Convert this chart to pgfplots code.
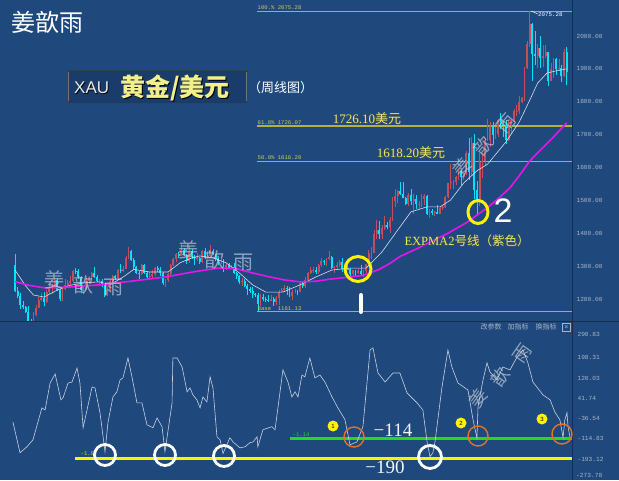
\documentclass[border=0pt]{standalone}
\usepackage{fontspec}
\usepackage{pgfplots}
\usepackage{pgfplotstable}
\pgfplotsset{compat=1.18}
\setmainfont{Liberation Serif}
\newfontfamily\cjk{Noto Sans CJK SC}
\newfontfamily\mono{Liberation Mono}
\newfontfamily\lsans{Liberation Sans}
\definecolor{bg}{RGB}{31,73,125}
\definecolor{boxc}{RGB}{26,60,106}
\definecolor{sepc}{RGB}{20,45,80}
\definecolor{upc}{RGB}{196,78,92}
\definecolor{dnc}{RGB}{0,228,255}
\definecolor{fibc}{RGB}{178,178,62}
\definecolor{fibt}{RGB}{205,205,90}
\definecolor{ytxt}{RGB}{236,232,92}
\definecolor{tickc}{RGB}{170,180,198}
\definecolor{magc}{RGB}{232,20,232}
\definecolor{emac}{RGB}{215,222,235}
\definecolor{ccic}{RGB}{200,208,222}
\definecolor{grc}{RGB}{30,220,30}
\definecolor{yel}{RGB}{255,242,0}
\definecolor{orc}{RGB}{225,115,40}
\definecolor{wmc}{RGB}{205,210,222}
\newcommand\tickfont{\mono\fontsize{6.2}{7}\selectfont}

\pgfplotstableread{
i o h l c
0 1304 1337 1220 1225
1 1225 1236 1202 1208
2 1208 1219 1171 1183
3 1183 1193 1171 1177
4 1177 1180 1156 1160
5 1160 1180 1124 1134
6 1134 1140 1124 1133
7 1133 1160 1128 1152
8 1152 1182 1148 1173
9 1173 1207 1172 1196
10 1196 1219 1194 1204
11 1204 1220 1180 1190
12 1190 1226 1188 1220
13 1220 1245 1215 1234
14 1234 1245 1216 1235
15 1235 1264 1231 1257
16 1257 1264 1224 1226
17 1226 1229 1195 1201
18 1201 1233 1195 1229
19 1229 1261 1226 1244
20 1244 1259 1238 1249
21 1249 1271 1242 1254
22 1254 1289 1248 1285
23 1285 1295 1276 1284
24 1284 1290 1262 1268
25 1268 1270 1226 1228
26 1228 1237 1214 1228
27 1228 1264 1228 1254
28 1254 1271 1246 1267
29 1267 1283 1260 1279
30 1279 1296 1265 1266
31 1266 1274 1251 1254
32 1254 1260 1241 1256
33 1256 1262 1235 1242
34 1242 1243 1205 1212
35 1212 1235 1208 1228
36 1228 1258 1225 1255
37 1255 1272 1249 1269
38 1269 1274 1257 1264
39 1264 1291 1257 1289
40 1289 1306 1279 1285
41 1285 1300 1281 1291
42 1291 1330 1290 1325
43 1325 1357 1322 1346
44 1346 1348 1316 1320
45 1320 1326 1288 1297
46 1297 1301 1276 1280
47 1280 1285 1260 1275
48 1275 1306 1273 1304
49 1304 1306 1277 1280
50 1280 1284 1262 1266
51 1266 1283 1264 1269
52 1269 1288 1265 1275
53 1275 1297 1270 1293
54 1293 1299 1281 1287
55 1287 1298 1271 1280
56 1280 1281 1243 1248
57 1248 1260 1236 1257
58 1257 1279 1252 1275
59 1275 1306 1272 1303
60 1303 1326 1301 1322
61 1322 1340 1312 1338
62 1338 1344 1325 1332
63 1332 1366 1331 1350
64 1350 1355 1331 1333
65 1333 1338 1307 1315
66 1315 1361 1310 1347
67 1347 1351 1321 1330
68 1330 1333 1303 1323
69 1323 1341 1315 1324
70 1324 1329 1307 1313
71 1313 1348 1309 1347
72 1347 1356 1322 1325
73 1325 1347 1322 1332
74 1332 1365 1325 1345
75 1345 1353 1333 1336
76 1336 1338 1316 1323
77 1323 1326 1302 1315
78 1315 1325 1305 1318
79 1318 1321 1282 1291
80 1291 1307 1287 1302
81 1302 1309 1291 1294
82 1294 1303 1290 1298
83 1298 1309 1275 1278
84 1278 1281 1261 1269
85 1269 1272 1245 1252
86 1252 1265 1238 1255
87 1255 1262 1236 1241
88 1241 1245 1211 1231
89 1231 1236 1218 1223
90 1223 1236 1204 1214
91 1214 1219 1205 1211
92 1211 1218 1160 1184
93 1184 1214 1178 1206
94 1206 1215 1195 1200
95 1200 1207 1190 1198
96 1198 1212 1191 1194
97 1194 1211 1193 1199
98 1199 1205 1180 1192
99 1192 1208 1182 1203
100 1203 1227 1182 1222
101 1222 1233 1221 1227
102 1227 1243 1221 1234
103 1234 1238 1211 1233
104 1233 1237 1206 1209
105 1209 1226 1196 1222
106 1222 1230 1217 1222
107 1222 1228 1212 1221
108 1221 1250 1220 1248
109 1248 1251 1234 1238
110 1238 1267 1234 1257
111 1257 1283 1256 1279
112 1279 1298 1276 1287
113 1287 1297 1280 1289
114 1289 1298 1276 1282
115 1282 1305 1275 1303
116 1303 1326 1297 1317
117 1317 1320 1302 1314
118 1314 1326 1300 1322
119 1322 1346 1319 1328
120 1328 1331 1291 1294
121 1294 1300 1280 1298
122 1298 1311 1290 1302
123 1302 1320 1298 1313
124 1313 1325 1281 1292
125 1292 1298 1281 1291
126 1291 1310 1287 1290
127 1290 1293 1270 1275
128 1275 1289 1266 1287
129 1287 1288 1267 1280
130 1280 1290 1277 1285
131 1285 1304 1273 1276
132 1276 1287 1266 1284
133 1284 1306 1279 1305
134 1305 1348 1305 1341
135 1341 1358 1322 1341
136 1341 1411 1340 1399
137 1399 1439 1382 1409
138 1409 1438 1381 1399
139 1399 1425 1383 1415
140 1415 1453 1410 1425
141 1425 1433 1412 1419
142 1419 1448 1400 1440
143 1440 1510 1438 1497
144 1497 1535 1480 1513
145 1513 1530 1491 1527
146 1527 1555 1517 1520
147 1520 1557 1506 1507
148 1507 1510 1485 1488
149 1488 1523 1484 1517
150 1517 1535 1485 1497
151 1497 1519 1459 1505
152 1505 1517 1474 1488
153 1488 1498 1474 1490
154 1490 1518 1481 1505
155 1505 1519 1486 1514
156 1514 1515 1456 1459
157 1459 1474 1445 1468
158 1468 1475 1455 1463
159 1463 1469 1452 1464
160 1464 1485 1457 1460
161 1460 1480 1458 1476
162 1476 1485 1471 1479
163 1479 1514 1477 1511
164 1511 1553 1508 1552
165 1552 1611 1535 1557
166 1557 1563 1536 1557
167 1557 1574 1546 1571
168 1571 1591 1563 1589
169 1589 1592 1547 1570
170 1570 1584 1562 1584
171 1584 1649 1578 1643
172 1643 1689 1563 1585
173 1585 1692 1576 1674
174 1674 1703 1505 1530
175 1530 1560 1451 1498
176 1498 1645 1482 1617
177 1617 1645 1567 1620
178 1620 1690 1606 1683
179 1683 1747 1681 1683
180 1683 1738 1661 1726
181 1726 1739 1670 1700
182 1700 1723 1688 1702
183 1702 1749 1692 1744
184 1744 1765 1716 1735
185 1735 1740 1693 1730
186 1730 1745 1670 1685
187 1685 1745 1681 1730
188 1730 1745 1704 1744
189 1744 1779 1737 1771
190 1771 1789 1757 1773
191 1773 1818 1763 1799
192 1799 1815 1795 1810
193 1810 1907 1803 1902
194 1902 1984 1900 1975
195 1975 2075 1966 2035
196 2035 2040 1863 1944
197 1944 2015 1911 1940
198 1940 1976 1902 1964
199 1964 2000 1903 1933
200 1933 1973 1907 1940
201 1940 1973 1932 1950
202 1950 1952 1849 1862
203 1862 1918 1863 1900
204 1900 1933 1873 1930
205 1930 1933 1882 1899
206 1899 1931 1894 1902
207 1902 1911 1860 1879
208 1879 1960 1876 1951
209 1951 1966 1850 1889
}\ohlc

\begin{document}
\begin{tikzpicture}[x=1pt,y=1pt]
\fill[bg] (0,0) rectangle (619,480);

% ---------------- upper price panel ----------------
\begin{axis}[at={(0pt,158pt)}, anchor=south west, scale only axis,
  width=572pt, height=322pt,
  xmin=-5.682, xmax=211.0, ymin=1130, ymax=2109.5,
  axis line style={draw=none}, xtick=\empty,
  ytick={1200,1300,1400,1500,1600,1700,1800,1900,2000},
  yticklabels={1200.00,1300.00,1400.00,1500.00,1600.00,1700.00,1800.00,1900.00,2000.00},
  yticklabel pos=right, major tick length=0pt, tick style={draw=none},
  yticklabel style={font=\tickfont, text=tickc, anchor=west, xshift=1pt},
  clip=true]
% Fibonacci levels
\addplot[fibc, line width=1.3pt] coordinates {(91.7,2075.28) (211,2075.28)};
\addplot[fibc, line width=1.3pt] coordinates {(91.7,1726.07) (211,1726.07)};
\addplot[fibc, line width=1.3pt] coordinates {(91.7,1618.20) (211,1618.20)};
\addplot[fibc, line width=1.3pt] coordinates {(91.7,1161.13) (211,1161.13)};
% up candles (red)
\addplot[draw=none, mark=none, forget plot,
  restrict expr to domain={\thisrow{c}-\thisrow{o}}{0:100000},
  error bars/.cd, y dir=plus, y explicit, error mark=none,
  error bar style={draw=upc, line width=0.6pt}]
  table[x=i, y=l, y error expr=\thisrow{h}-\thisrow{l}] {\ohlc};
\addplot[draw=none, mark=none, forget plot,
  restrict expr to domain={\thisrow{c}-\thisrow{o}}{0:100000},
  error bars/.cd, y dir=plus, y explicit, error mark=none,
  error bar style={draw=upc, line width=1.9pt}]
  table[x=i, y=o, y error expr=\thisrow{c}-\thisrow{o}] {\ohlc};
% down candles (cyan)
\addplot[draw=none, mark=none, forget plot,
  restrict expr to domain={\thisrow{o}-\thisrow{c}}{0.5:100000},
  error bars/.cd, y dir=plus, y explicit, error mark=none,
  error bar style={draw=dnc, line width=0.6pt}]
  table[x=i, y=l, y error expr=\thisrow{h}-\thisrow{l}] {\ohlc};
\addplot[draw=none, mark=none, forget plot,
  restrict expr to domain={\thisrow{o}-\thisrow{c}}{0.5:100000},
  error bars/.cd, y dir=plus, y explicit, error mark=none,
  error bar style={draw=dnc, line width=1.9pt}]
  table[x=i, y=c, y error expr=\thisrow{o}-\thisrow{c}] {\ohlc};
% short EXPMA (white)
\addplot[emac, line width=0.6pt] coordinates {
(0,1288)(4,1240)(7,1212)(11,1206)(16,1227)(21,1242)(26,1249)(32,1252)(36,1243)
(41,1267)(45,1290)(51,1282)(58,1282)(62.5,1310)(67,1325)(70,1331)(75,1325)
(80,1310)(85,1279)(90,1243)(95,1221)(101.5,1221)(108,1243)(114,1267)(120,1288)
(127,1294)(133,1294)(139,1343)(145,1410)(150,1465)(156,1480)(161,1480)(165,1501)
(170,1553)(175,1590)(179,1610)(186,1678)(191,1738)(195,1805)(198,1857)
(201.5,1887)(205,1894)(209,1900)};
% EXPMA2 (magenta)
\addplot[magc, line width=1.6pt] coordinates {
(0,1253)(5,1242)(11,1234)(20,1236)(32,1243)(45,1255)(57,1267)(68,1283)(77,1294)
(84,1292)(90,1279)(96,1268)(102,1258)(108,1252)(114,1254)(119,1260)(126,1266)
(132,1272)(138,1290)(142,1308)(146,1330)(152,1352)(157,1372)(164,1400)(171,1432)
(175,1455)(179,1478)(183,1505)(187.5,1538)(191,1575)(195,1620)(199,1653)
(204,1693)(209,1736)};
\end{axis}

% ---------------- lower oscillator panel ----------------
\begin{axis}[at={(0pt,0pt)}, anchor=south west, scale only axis,
  width=572pt, height=158pt,
  xmin=-5.682, xmax=211.0, ymin=-274.4, ymax=337.3,
  axis line style={draw=none}, xtick=\empty,
  ytick={-193.12,-114.83,-36.54,41.74,120.03,198.31,290.83},
  yticklabels={-193.12,-114.83,-36.54,41.74,120.03,198.31,290.83},
  yticklabel pos=right, major tick length=0pt, tick style={draw=none},
  yticklabel style={font=\tickfont, text=tickc, anchor=west, xshift=2pt},
  clip=true]
\addplot[yel, line width=2.6pt] coordinates {(22.7,-190) (211,-190)};
\addplot[grc, line width=2.6pt] coordinates {(104.2,-114) (211,-114)};
\addplot[ccic, line width=0.6pt] coordinates {
(-0.8,-49)(1.9,-169)(4.5,-146)(6.8,-119)(10.2,5)(11.4,-3)(13.3,101)(15.2,136)
(17.4,36)(18.2,44)(20.1,101)(21.6,105)(23.5,159)(24.6,101)(25.8,-72)(29.2,86)
(30.3,82)(32.2,-14)(34.1,-165)(35.2,-53)(37.1,47)(38.6,67)(39.8,113)(40.9,121)
(42.8,198)(44.3,125)(46.2,24)(48.1,24)(50.0,-61)(52.3,-72)(53.8,-34)(55.7,-68)
(56.8,-165)(59.5,24)(59.8,198)(61.4,198)(63.3,163)(65.2,67)(66.3,82)(67.4,55)
(68.9,36)(70.1,5)(71.2,47)(72.7,28)(73.9,125)(75.0,82)(76.5,-107)(77.7,-119)
(78.8,-172)(81.4,-111)(82.6,-127)(85.2,-150)(87.1,-146)(89.0,-130)(90.2,-127)
(91.7,-107)(92.0,-146)(93.9,-80)(97.3,-68)(98.5,-80)(99.6,5)(101.5,152)
(103.4,105)(104.9,47)(106.1,67)(107.2,47)(108.7,132)(109.8,125)(111.7,198)
(113.6,121)(115.5,132)(117.4,105)(120.1,47)(122.3,5)(125.0,-41)(126.9,-138)
(129.5,-127)(131.8,-68)(134.5,229)(135.6,237)(137.5,140)(140.2,105)(143.2,140)
(145.8,140)(148.5,63)(152.3,24)(154.5,-3)(156.1,-127)(157.2,-184)(158.3,-169)
(159.1,-127)(161.7,82)(164.0,229)(165.5,163)(167.8,101)(171.6,74)(173.5,-41)
(175.0,-112)(175.4,9)(177.3,113)(178.8,179)(179.9,144)(182.6,113)(184.8,163)
(187.5,152)(190.2,202)(192.4,229)(194.3,179)(196.2,105)(200.0,55)(202.7,36)
(204.5,-11)(206.4,-41)(207.6,-110)(208.3,-41)(209.1,-14)(209.5,-68)(210.2,-107)};
\end{axis}

% ---------------- annotations (image pixel coordinates) ----------------
\begin{scope}[x=1pt,y=-1pt,yshift=480pt]
% separators
\draw[sepc, line width=1pt] (572.5,0) -- (572.5,480);
\draw[sepc, line width=0.8pt] (0,321) -- (619,321);
\node[font=\tickfont, text=tickc, anchor=west, inner sep=0pt] at (576,475) {-273.78};
% fib labels
\begin{scope}[font=\mono\fontsize{5.6}{6}\selectfont, text=fibt]
\node[anchor=south west, inner sep=0.5pt] at (257,10.5) {100.\% 2075.28};
\node[anchor=south west, inner sep=0.5pt] at (257,125.5) {61.8\% 1726.07};
\node[anchor=south west, inner sep=0.5pt] at (257,160.5) {50.0\% 1618.20};
\node[anchor=south west, inner sep=0.5pt] at (257,311) {Base\ \ 1161.13};
\end{scope}
\draw[white, line width=0.5pt] (531,11) -- (538,14);
\node[font=\mono\fontsize{5.8}{6}\selectfont, text=white, anchor=west, inner sep=0pt] at (538,15) {2075.28};
% big yellow labels
\node[text=black!70, font=\fontsize{13}{14}\selectfont] at (367.8,119.8) {1726.10{\cjk 美元}};
\node[text=ytxt, font=\fontsize{13}{14}\selectfont] at (367,119) {1726.10{\cjk 美元}};
\node[text=black!70, font=\fontsize{13}{14}\selectfont] at (411.8,153.8) {1618.20{\cjk 美元}};
\node[text=ytxt, font=\fontsize{13}{14}\selectfont] at (411,153) {1618.20{\cjk 美元}};
\node[text=black!70, font=\fontsize{12.5}{13}\selectfont] at (467.8,241.8) {EXPMA2{\cjk 号线（紫色）}};
\node[text=ytxt, font=\fontsize{12.5}{13}\selectfont] at (467,241) {EXPMA2{\cjk 号线（紫色）}};
% top-left signature
\node[text=white, font=\cjk\fontsize{24}{26}\selectfont] at (48,22) {姜歆雨};
% title box
\fill[boxc] (68,70) rectangle (247,103);
\draw[black!75, densely dotted, line width=0.6pt] (68,70) rectangle (247,103);
\draw[black!55, line width=1.5pt] (68.5,72) -- (68.5,101);
\draw[black!55, line width=1.5pt] (246.5,72) -- (246.5,101);
\node[text=black, font=\lsans\fontsize{17}{18}\selectfont, anchor=west, inner sep=0pt] at (74.8,88.8) {XAU};
\node[text=white!85!gray, font=\lsans\fontsize{17}{18}\selectfont, anchor=west, inner sep=0pt] at (74,88) {XAU};
\node[text=black, font=\cjk\bfseries\fontsize{25}{27}\selectfont, anchor=west, inner sep=0pt] at (120.9,88.9) {黄金/美元};
\node[text=ytxt!70!white, font=\cjk\bfseries\fontsize{25}{27}\selectfont, anchor=west, inner sep=0pt] at (120,88) {黄金/美元};
\node[text=white, font=\cjk\fontsize{13}{14}\selectfont, anchor=west, inner sep=0pt] at (248,88) {（周线图）};
% watermarks
\begin{scope}[text=wmc, text opacity=0.65, font=\cjk\fontsize{20}{22}\selectfont]
\node at (55,280) {姜}; \node at (83,285) {歆}; \node at (113,288) {雨};
\node at (188,250) {姜}; \node at (214,260) {歆}; \node at (243,263) {雨};
\end{scope}
\begin{scope}[text=wmc, text opacity=0.65, font=\cjk\fontsize{18}{20}\selectfont, inner sep=0pt]
\node[rotate=50] at (462,167) {姜}; \node[rotate=50] at (483,146) {歆}; \node[rotate=50] at (506,124) {雨};
\node[rotate=55] at (478,398) {姜}; \node[rotate=55] at (500,377) {歆}; \node[rotate=55] at (523,354) {雨};
\end{scope}
% circles on price panel
\draw[yel, line width=3pt] (358,269) ellipse [x radius=13, y radius=12.5];
\draw[white, line width=4pt, line cap=round] (361,295) -- (361,312);
\draw[yel, line width=3pt] (478,212) ellipse [x radius=10, y radius=11.5];
\node[text=white, font=\lsans\fontsize{34}{36}\selectfont] at (503,211) {2};
% lower panel annotations
\node[text=grc, font=\mono\fontsize{5.6}{6}\selectfont, anchor=south west, inner sep=0.5pt] at (292,437) {-1.14};
\node[text=yel!80!green, font=\mono\fontsize{5.6}{6}\selectfont, anchor=south west, inner sep=0.5pt] at (80,456) {-1.9};
\foreach \cx/\cy in {105/455,165/455,224/456} {
  \draw[white, line width=2.8pt] (\cx,\cy) circle [radius=10.5];
}
\draw[white, line width=2.8pt] (430,457) circle [radius=11.5];
\foreach \cx/\cy in {354/437,478/436,562/434} {
  \draw[orc, line width=1.4pt] (\cx,\cy) circle [radius=10];
}
\foreach \cx/\cy/\n in {333/426/1,461/423/2,542/419/3} {
  \fill[yel] (\cx,\cy) circle [radius=5.5];
  \node[text=black, font=\lsans\fontsize{6}{6}\selectfont, inner sep=0pt] at (\cx,\cy) {\n};
}
\node[text=white!92!gray, font=\fontsize{19}{20}\selectfont] at (393,430) {−114};
\node[text=white!92!gray, font=\fontsize{19}{20}\selectfont] at (385,467) {−190};
% indicator menu
\begin{scope}[text=tickc, font=\cjk\fontsize{7}{8}\selectfont]
\node at (491,327) {改参数}; \node at (518,327) {加指标}; \node at (546,327) {换指标};
\end{scope}
\draw[tickc, line width=0.4pt] (562,323) rectangle (570.5,331.5);
\node[text=tickc, font=\lsans\fontsize{7}{8}\selectfont, inner sep=0pt] at (566.3,327.3) {×};
\end{scope}
\pgfresetboundingbox
\path[use as bounding box] (0,0) rectangle (619,480);
\end{tikzpicture}
\end{document}
